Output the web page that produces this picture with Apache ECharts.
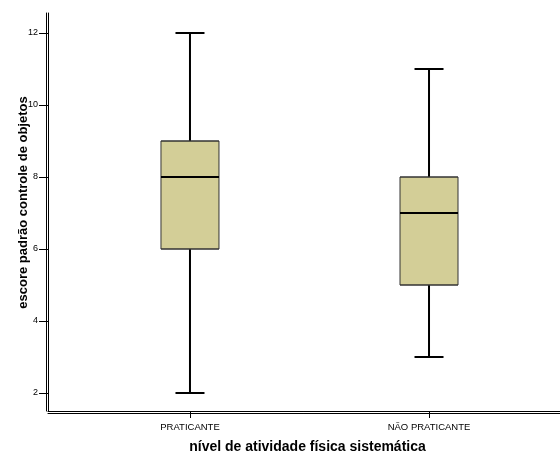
<!DOCTYPE html>
<html>
<head>
<meta charset="utf-8">
<script src="https://cdn.jsdelivr.net/npm/echarts@6/dist/echarts.min.js"></script>
<style>
  html, body { margin: 0; padding: 0; background: #fff; }
  #chart { width: 560px; height: 453px; }
</style>
</head>
<body>
<div id="chart"></div>
<script>
// Groups on the horizontal axis
const categories = ['PRATICANTE', 'NÃO PRATICANTE'];
// Five-number summaries per group: [min, Q1, median, Q3, max]
const praticante = [2, 6, 8, 9, 12];
const naoPraticante = [3, 5, 7, 8, 11];
const yTicks = [2, 4, 6, 8, 10, 12];

const groups = [praticante, naoPraticante];
const positions = categories.map((_, i) => i + 1);

const fillColor = '#D3CE97';
const font = 'Liberation Sans, Arial, sans-serif';

// Whiskers with short end caps; their collapsed box sits at the median,
// hidden under the wide box drawn on top
const whiskerData = groups.map((g, i) => [positions[i], g[0], g[2], g[2], g[2], g[4]]);
// Boxes from Q1 to Q3
const boxData = groups.map((g, i) => [positions[i], g[1], g[1], g[2], g[3], g[3]]);
// Median bar
const medianData = groups.map((g, i) => [positions[i], g[2], g[2], g[2], g[2], g[2]]);

const chart = echarts.init(document.getElementById('chart'), null, { renderer: 'canvas' });

const axisLineStyle = { color: '#000', width: 1 };
const X_MIN = 0.406, X_MAX = 2.548;

// Overlapping hidden axes so the layered boxplot series are not dodged
function hiddenX() {
  return {
    type: 'value', min: X_MIN, max: X_MAX, show: false,
    splitLine: { show: false }
  };
}

chart.setOption({
  animation: false,
  backgroundColor: '#fff',
  grid: { left: 48, right: 0, top: 13, bottom: 42, outerBoundsMode: 'none' },
  xAxis: [
    {
      type: 'value',
      min: X_MIN,
      max: X_MAX,
      splitLine: { show: false },
      axisLine: { show: true, lineStyle: axisLineStyle },
      axisTick: { show: true, length: 7, customValues: positions, lineStyle: { color: '#000' } },
      axisLabel: {
        customValues: positions,
        formatter: v => categories[Math.round(v) - 1] || '',
        color: '#000',
        fontFamily: font,
        fontSize: 9.5,
        margin: 11
      },
      name: 'nível de atividade física sistemática',
      nameLocation: 'middle',
      nameGap: 29,
      nameMoveOverlap: false,
      nameTextStyle: {
        fontFamily: font, fontSize: 14, fontWeight: 'bold', color: '#000',
        padding: [0, 0, 0, 7]
      }
    },
    {
      type: 'value',
      position: 'bottom',
      offset: 2,
      min: 0,
      max: 1,
      axisLine: { show: true, lineStyle: axisLineStyle },
      axisTick: { show: false },
      axisLabel: { show: false },
      splitLine: { show: false }
    },
    hiddenX(),
    hiddenX()
  ],
  yAxis: [
    {
      type: 'value',
      min: 1.5,
      max: 12.556,
      splitLine: { show: false },
      axisLine: { show: true, lineStyle: axisLineStyle },
      axisTick: { show: true, length: 9, customValues: yTicks, lineStyle: { color: '#000' } },
      axisLabel: {
        customValues: yTicks,
        color: '#000',
        fontFamily: font,
        fontSize: 9,
        margin: 10
      },
      name: 'escore padrão controle de objetos',
      nameLocation: 'middle',
      nameGap: 18,
      nameMoveOverlap: false,
      nameTextStyle: {
        fontFamily: font, fontSize: 13, fontWeight: 'bold', color: '#000',
        padding: [0, 0, 0, 19]
      }
    },
    {
      type: 'value',
      position: 'left',
      offset: 2,
      min: 0,
      max: 1,
      axisLine: { show: true, lineStyle: axisLineStyle },
      axisTick: { show: false },
      axisLabel: { show: false },
      splitLine: { show: false }
    }
  ],
  series: [
    {
      type: 'boxplot',
      layout: 'horizontal',
      xAxisIndex: 0,
      yAxisIndex: 0,
      boxWidth: [29, 29],
      data: whiskerData,
      itemStyle: { color: fillColor, borderColor: '#000', borderWidth: 2 },
      silent: true
    },
    {
      type: 'boxplot',
      layout: 'horizontal',
      xAxisIndex: 2,
      yAxisIndex: 0,
      boxWidth: [58, 58],
      data: boxData,
      itemStyle: { color: fillColor, borderColor: '#333', borderWidth: 1 },
      silent: true
    },
    {
      type: 'boxplot',
      layout: 'horizontal',
      xAxisIndex: 3,
      yAxisIndex: 0,
      boxWidth: [58, 58],
      data: medianData,
      itemStyle: { color: fillColor, borderColor: '#000', borderWidth: 2 },
      silent: true
    }
  ]
});
</script>
</body>
</html>
